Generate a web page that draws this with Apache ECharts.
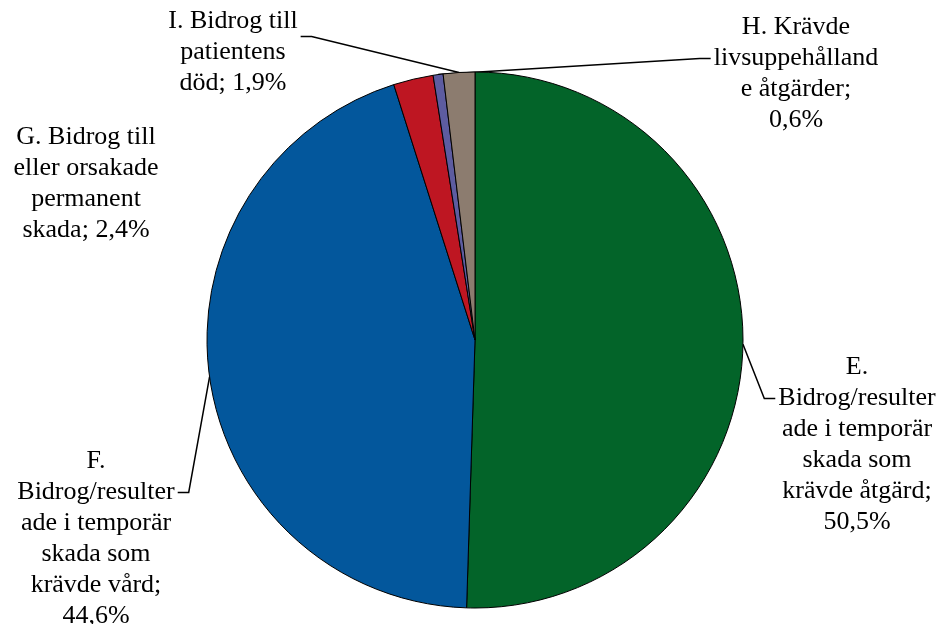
<!DOCTYPE html>
<html>
<head>
<meta charset="utf-8">
<script src="https://cdn.jsdelivr.net/npm/echarts@6/dist/echarts.min.js"></script>
<style>
  html, body { margin: 0; padding: 0; background: #fff; }
  #chart { width: 941px; height: 624px; }
</style>
</head>
<body>
<div id="chart"></div>
<script>
// kategorier (radbrutna som i originalet), värden i procent
const categories = [
  "E.\nBidrog/resulter\nade i temporär\nskada som\nkrävde åtgärd",
  "F.\nBidrog/resulter\nade i temporär\nskada som\nkrävde vård",
  "G. Bidrog till\neller orsakade\npermanent\nskada",
  "H. Krävde\nlivsuppehålland\ne åtgärder",
  "I. Bidrog till\npatientens\ndöd"
];
const values = [50.5, 44.6, 2.4, 0.6, 1.9];
const valueOnNewLine = [true, true, false, true, false];
const colors = ["#036429", "#03579c", "#be1622", "#5d5ca0", "#8c7c6f"];

// etikettplacering: [x, y, sida för linjen, rad som linjen fäster vid]
const labelPos = [
  [857, 445, "left", 1],
  [96, 539, "right", 1],
  [86, 184, null, 0],
  [796, 74, "left", 1],
  [233, 52, "right", 0.5]
];

const myChart = echarts.init(document.getElementById("chart"));
const LH = 31;

const option = {
  animation: false,
  series: [
    {
      type: "pie",
      center: [475, 340],
      radius: 268,
      startAngle: 90,
      clockwise: true,
      avoidLabelOverlap: false,
      itemStyle: { borderColor: "#000", borderWidth: 1 },
      label: {
        show: true,
        position: "outside",
        color: "#000",
        fontFamily: "'Liberation Serif', 'Times New Roman', serif",
        fontSize: 26,
        lineHeight: LH,
        align: "center",
        formatter: function (p) {
          const i = p.dataIndex;
          const pct = values[i].toFixed(1).replace(".", ",") + "%";
          return p.name + ";" + (valueOnNewLine[i] ? "\n" : " ") + pct;
        }
      },
      labelLine: {
        show: true,
        lineStyle: { color: "#000", width: 1.5 }
      },
      labelLayout: function (params) {
        const pos = labelPos[params.dataIndex];
        const w = params.labelRect.width;
        const h = params.labelRect.height;
        const out = { x: pos[0], y: pos[1], align: "center", verticalAlign: "middle" };
        if (pos[2] && params.labelLinePoints) {
          const anchor = params.labelLinePoints[0];
          const yy = pos[1] - h / 2 + LH / 2 + LH * pos[3];
          if (pos[2] === "left") {
            const lx = pos[0] - w / 2 - 3;
            out.labelLinePoints = [anchor, [lx - 11, yy], [lx, yy]];
          } else {
            const rx = pos[0] + w / 2 + 3;
            out.labelLinePoints = [anchor, [rx + 11, yy], [rx, yy]];
          }
        }
        return out;
      },
      data: categories.map(function (name, i) {
        const item = { name: name, value: values[i], itemStyle: { color: colors[i] } };
        if (!labelPos[i][2]) item.labelLine = { show: false };
        return item;
      })
    }
  ]
};

myChart.setOption(option);
</script>
</body>
</html>
